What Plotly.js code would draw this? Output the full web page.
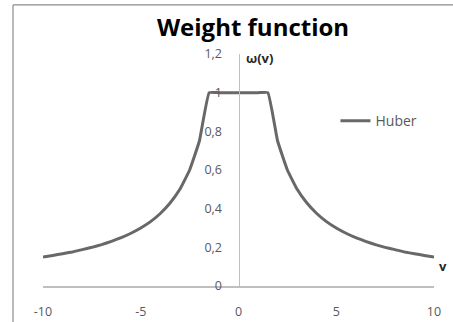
<!DOCTYPE html>
<html>
<head>
<meta charset="utf-8">
<script src="https://cdn.plot.ly/plotly-3.0.1.min.js"></script>
<style>html,body{margin:0;padding:0;background:#fff;}#chart{width:453px;height:322px;}</style>
</head>
<body>
<div id="chart"></div>
<script>
// Values
const v = [-10,-9.5,-9,-8.5,-8,-7.5,-7,-6.5,-6,-5.5,-5,-4.5,-4,-3.5,-3,-2.5,-2,-1.5,-1,-0.5,0,0.5,1,1.5,2,2.5,3,3.5,4,4.5,5,5.5,6,6.5,7,7.5,8,8.5,9,9.5,10];
const huber = [0.15,0.158,0.167,0.176,0.188,0.2,0.214,0.231,0.25,0.273,0.3,0.333,0.375,0.429,0.5,0.6,0.75,1,1,1,1,1,1,1,0.75,0.6,0.5,0.429,0.375,0.333,0.3,0.273,0.25,0.231,0.214,0.2,0.188,0.176,0.167,0.158,0.15];
const xTickVals = [-10, -5, 0, 5, 10];
const xTickLabels = ['-10', '-5', '0', '5', '10'];
const seriesName = 'Huber';
const titleText = 'Weight function';
const yTitle = 'ω(v)';
const xTitle = 'v';

const tickFont = {family: 'Open Sans, sans-serif', size: 12.5, color: '#595959'};

const trace = {
  x: v, y: huber, type: 'scatter', mode: 'lines', name: seriesName,
  line: {color: '#686868', width: 3, shape: 'spline', smoothing: 0.3},
  cliponaxis: false
};

const layout = {
  width: 453, height: 322,
  margin: {l: 43, r: 19, t: 54, b: 36, pad: 0},
  paper_bgcolor: '#ffffff', plot_bgcolor: '#ffffff',
  separators: ', ',
  showlegend: true,
  title: {text: '<b>' + titleText + '</b>', x: 253/453, xanchor: 'center', y: 1 - 28/322, yanchor: 'middle',
          font: {family: 'Open Sans, sans-serif', size: 24, color: '#000000'}},
  xaxis: {range: [-10, 10], tickmode: 'array', tickvals: xTickVals, ticktext: xTickLabels,
          showgrid: false, zeroline: false,
          showline: true, linecolor: '#bfbfbf', linewidth: 1.5, ticks: '',
          ticklabelstandoff: 13, tickfont: tickFont, fixedrange: true},
  yaxis: {range: [0, 1.2], dtick: 0.2, tick0: 0, showgrid: false, zeroline: false,
          anchor: 'free', position: 0.5, showline: true, linecolor: '#bfbfbf', linewidth: 1.5,
          ticks: '', ticklabelstandoff: 14, tickfont: tickFont, fixedrange: true},
  legend: {x: 0.748, xanchor: 'left', y: (285.7 - 121) / 231.7, yanchor: 'middle',
           font: {family: 'Open Sans, sans-serif', size: 14, color: '#595959'}, bgcolor: 'rgba(0,0,0,0)'},
  annotations: [
    {text: '<b>' + yTitle + '</b>', xref: 'paper', yref: 'paper', x: (244 - 43) / 391, y: (285.7 - 58) / 231.7,
     xanchor: 'left', yanchor: 'middle', showarrow: false, font: {family: 'Open Sans, sans-serif', size: 13, color: '#262626'}},
    {text: '<b>' + xTitle + '</b>', xref: 'paper', yref: 'paper', x: (443 - 43) / 391, y: (285.7 - 266) / 231.7,
     xanchor: 'center', yanchor: 'middle', showarrow: false, font: {family: 'Open Sans, sans-serif', size: 13, color: '#262626'}}
  ],
  shapes: [
    {type: 'line', xref: 'paper', yref: 'paper', x0: (13 - 43) / 391, x1: (13 - 43) / 391, y0: -0.3, y1: (285.7 - 5) / 231.7,
     line: {color: '#8c8c8c', width: 1.2}},
    {type: 'line', xref: 'paper', yref: 'paper', x0: (13 - 43) / 391, x1: 1.2, y0: (285.7 - 5) / 231.7, y1: (285.7 - 5) / 231.7,
     line: {color: '#8c8c8c', width: 1.2}}
  ]
};

Plotly.newPlot('chart', [trace], layout, {displayModeBar: false, staticPlot: true});
</script>
</body>
</html>
